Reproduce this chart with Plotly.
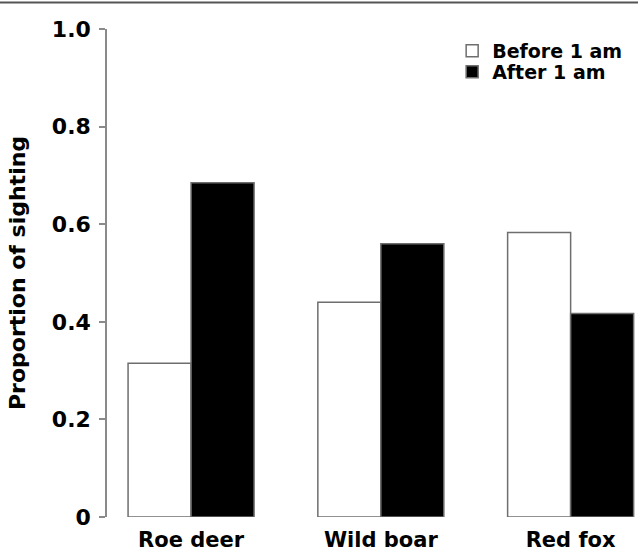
import plotly.graph_objects as go

categories = ["Roe deer", "Wild boar", "Red fox"]
before_1am = [0.315, 0.44, 0.583]
after_1am = [0.685, 0.56, 0.417]
y_ticks = [0, 0.2, 0.4, 0.6, 0.8, 1.0]
y_tick_labels = ["0", "0.2", "0.4", "0.6", "0.8", "1.0"]

FONT = dict(family="DejaVu Sans", weight="bold", color="black")

fig = go.Figure()
fig.add_trace(go.Bar(
    x=categories, y=before_1am, name="Before 1 am",
    marker=dict(color="white", line=dict(color="#6e6e6e", width=1.5)),
    legend="legend",
))
fig.add_trace(go.Bar(
    x=categories, y=after_1am, name="After 1 am",
    marker=dict(color="black", line=dict(color="#6e6e6e", width=1.5)),
    legend="legend2",
))

fig.update_layout(
    width=638, height=552,
    margin=dict(l=107, r=0, t=29, b=35),
    paper_bgcolor="white", plot_bgcolor="white",
    barmode="group", bargap=0.336, bargroupgap=0,
    font=dict(**FONT, size=22),
    legend=dict(x=0.65, y=0.955, xanchor="left", yanchor="middle",
                font=dict(**FONT, size=19), bgcolor="rgba(0,0,0,0)",
                borderwidth=0),
    legend2=dict(x=0.65, y=0.912, xanchor="left", yanchor="middle",
                 font=dict(**FONT, size=19), bgcolor="rgba(0,0,0,0)",
                 borderwidth=0),
    showlegend=True,
)
fig.update_xaxes(
    range=[-0.443, 2.355], showline=False, showgrid=False, zeroline=False,
    ticks="", tickfont=dict(**FONT, size=21), ticklabelstandoff=8,
)
fig.update_yaxes(
    range=[0, 1.0], showline=True, linecolor="#8a8a8a", linewidth=1.5,
    showgrid=False, zeroline=False, ticks="outside", ticklen=6,
    tickcolor="#8a8a8a", tickwidth=1.5,
    tickvals=y_ticks, ticktext=y_tick_labels,
    tickfont=dict(**FONT, size=22), ticklabelstandoff=4,
    title=dict(text="Proportion of sighting", font=dict(**FONT, size=22), standoff=20),
)
fig.add_shape(type="line", xref="paper", yref="paper",
              x0=-0.21, x1=1.01, y0=1.0545, y1=1.0545,
              line=dict(color="#555555", width=2))

fig.write_html(
    "out.html",
    config={"displayModeBar": False},
    post_script="document.body.style.margin='0';document.body.style.overflow='hidden';",
)
